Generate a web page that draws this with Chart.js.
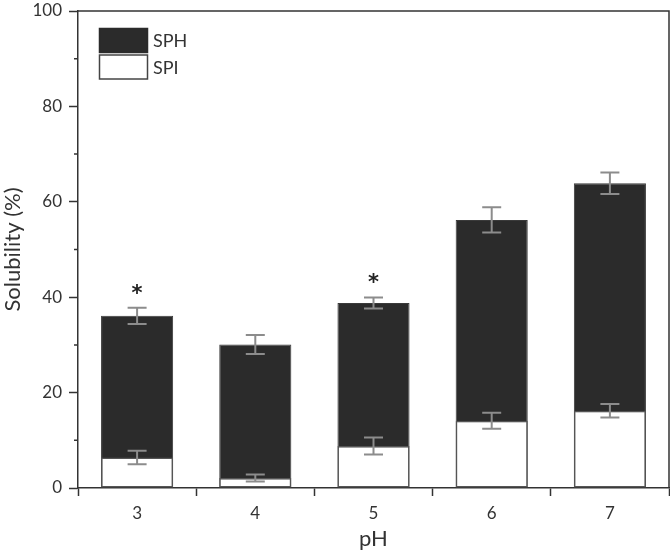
<!DOCTYPE html>
<html>
<head>
<meta charset="utf-8">
<script src="https://cdn.jsdelivr.net/npm/chart.js@4.4.1/dist/chart.umd.min.js"></script>
<style>
  body { margin: 0; background: #fff; }
</style>
</head>
<body>
<canvas id="chart" width="670" height="552"></canvas>
<script>
const phLabels = ['3', '4', '5', '6', '7'];
const sphValues = [36.1, 30.1, 38.8, 56.2, 63.9];
const sphErrors = [1.7, 2.0, 1.15, 2.65, 2.25];
const spiValues = [6.4, 2.1, 8.8, 14.1, 16.2];
const spiErrors = [1.4, 0.75, 1.8, 1.7, 1.4];
const marked = [true, false, true, false, false];
const yMinorTicks = [10, 30, 50, 70, 90];

const FONT = 'Lato, "Liberation Sans", sans-serif';
const AXIS = '#333333';

const extras = {
  id: 'extras',
  afterDatasetsDraw(chart) {
    const ctx = chart.ctx;
    const x = chart.scales.x;
    const y = chart.scales.y;
    const area = chart.chartArea;

    // error bars
    const drawErr = (vals, errs) => {
      ctx.save();
      ctx.strokeStyle = '#8c8c8c';
      ctx.lineWidth = 2;
      vals.forEach((v, i) => {
        const cx = x.getPixelForValue(i);
        const top = y.getPixelForValue(v + errs[i]);
        const bot = y.getPixelForValue(v - errs[i]);
        ctx.beginPath();
        ctx.moveTo(cx, top); ctx.lineTo(cx, bot);
        ctx.moveTo(cx - 9.5, top); ctx.lineTo(cx + 9.5, top);
        ctx.moveTo(cx - 9.5, bot); ctx.lineTo(cx + 9.5, bot);
        ctx.stroke();
      });
      ctx.restore();
    };
    drawErr(sphValues, sphErrors);
    drawErr(spiValues, spiErrors);

    // significance marks
    ctx.save();
    ctx.fillStyle = '#222';
    ctx.font = 'bold 21px "DejaVu Sans", sans-serif';
    ctx.textAlign = 'center';
    ctx.textBaseline = 'alphabetic';
    marked.forEach((m, i) => {
      if (!m) return;
      const cx = x.getPixelForValue(i);
      const top = y.getPixelForValue(sphValues[i] + sphErrors[i]);
      ctx.fillText('*', cx, top - 8);
    });
    ctx.restore();

    // minor ticks + frame
    ctx.save();
    ctx.strokeStyle = AXIS;
    ctx.lineWidth = 1.5;
    ctx.beginPath();
    yMinorTicks.forEach(v => {
      const py = y.getPixelForValue(v);
      ctx.moveTo(area.left - 4, py); ctx.lineTo(area.left, py);
    });
    ctx.moveTo(area.left, area.top); ctx.lineTo(area.right, area.top);
    ctx.lineTo(area.right, area.bottom);
    ctx.stroke();
    ctx.restore();

    // legend
    ctx.save();
    const items = [
      { label: 'SPH', fill: '#2b2b2b', border: '#2b2b2b' },
      { label: 'SPI', fill: '#ffffff', border: '#444' }
    ];
    ctx.font = '18px ' + FONT;
    ctx.textBaseline = 'middle';
    items.forEach((it, k) => {
      const bx = 99.5, by = 28.5 + k * 26.5;
      ctx.fillStyle = it.fill;
      ctx.fillRect(bx, by, 48, 24);
      ctx.strokeStyle = it.border;
      ctx.lineWidth = 1.5;
      ctx.strokeRect(bx, by, 48, 24);
      ctx.fillStyle = '#333';
      ctx.fillText(it.label, 153, by + 13);
    });
    ctx.restore();
  }
};

new Chart(document.getElementById('chart'), {
  type: 'bar',
  data: {
    labels: phLabels,
    datasets: [
      {
        label: 'SPI',
        data: spiValues,
        backgroundColor: '#ffffff',
        borderColor: '#555555',
        borderWidth: 1.5,
        borderSkipped: false
      },
      {
        label: 'SPH',
        data: sphValues,
        backgroundColor: '#2b2b2b',
        borderColor: '#3a3a3a',
        borderWidth: 1,
        borderSkipped: false
      }
    ]
  },
  options: {
    responsive: false,
    animation: false,
    events: [],
    layout: { padding: { top: 11, right: 1, left: 0, bottom: 0 } },
    categoryPercentage: 1,
    barPercentage: 0.61,
    plugins: {
      legend: { display: false },
      tooltip: { enabled: false }
    },
    scales: {
      x: {
        stacked: true,
        offset: true,
        afterFit: s => { s.height = 64; },
        grid: { drawOnChartArea: false, tickLength: 8, tickColor: AXIS, tickWidth: 1.5 },
        border: { color: AXIS, width: 1.5 },
        ticks: { color: '#333', font: { family: FONT, size: 17 }, padding: 7 },
        title: { display: true, text: 'pH', color: '#333', font: { family: FONT, size: 22 }, padding: 0 }
      },
      y: {
        stacked: false,
        min: 0,
        max: 100,
        afterFit: s => { s.width = 78; s.paddingTop = 0; s.paddingBottom = 0; },
        grid: { drawOnChartArea: false, tickLength: 9, tickColor: AXIS, tickWidth: 1.5 },
        border: { color: AXIS, width: 1.5 },
        ticks: { stepSize: 20, color: '#333', font: { family: FONT, size: 17 }, padding: 7 },
        title: { display: true, text: 'Solubility (%)', color: '#333', font: { family: FONT, size: 22 }, padding: 0 }
      }
    }
  },
  plugins: [extras]
});
</script>
</body>
</html>
